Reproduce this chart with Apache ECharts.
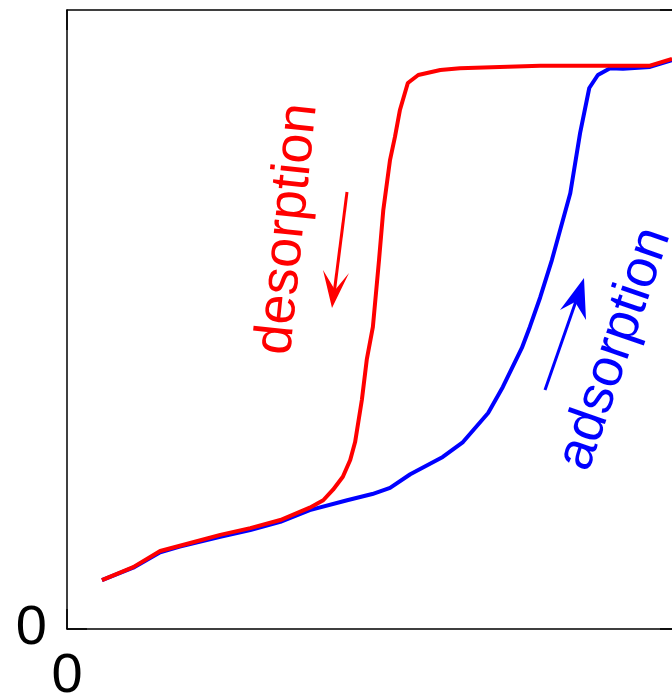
<!DOCTYPE html>
<html>
<head>
<meta charset="utf-8">
<script src="https://cdn.jsdelivr.net/npm/echarts@6/dist/echarts.min.js"></script>
<style>html,body{margin:0;padding:0;background:#fff}#c{width:672px;height:699px}</style>
</head>
<body>
<div id="c"></div>
<script>
// Relative pressure (x) and adsorbed amount (y, arbitrary units)
var adsX = [0.057,0.108,0.152,0.184,0.250,0.299,0.348,0.396,0.457,0.498,0.527,0.560,0.613,0.646,0.687,0.711,0.742,0.755,0.772,0.791,0.821,0.837,0.852,0.866,0.886,0.907,0.951,0.987];
var adsY = [7.9,9.9,12.4,13.3,14.9,16.0,17.3,19.2,20.8,21.8,22.8,25.0,27.8,30.2,34.9,39.1,45.4,48.8,53.6,59.6,70.4,80.1,87.4,89.5,90.6,90.5,90.8,91.9];
var desX = [0.057,0.108,0.152,0.201,0.250,0.299,0.348,0.396,0.418,0.434,0.450,0.462,0.470,0.481,0.489,0.499,0.509,0.516,0.527,0.535,0.543,0.556,0.573,0.609,0.641,0.706,0.772,0.870,0.951,0.987];
var desY = [7.9,10.0,12.6,13.9,15.2,16.3,17.6,19.6,20.8,22.5,24.6,27.3,30.2,37.0,43.5,48.8,59.6,67.7,75.8,79.5,83.8,88.2,89.5,90.3,90.6,90.8,91.0,91.0,91.0,92.1];
var xTicks = ['0'];
var yTicks = ['0'];

function pairs(xs, ys){ return xs.map(function(x,i){ return [x, ys[i]]; }); }

var FONT = "'Liberation Sans', Arial, sans-serif";
var chart = echarts.init(document.getElementById('c'), null, {renderer:'canvas'});
function axisLine(){ return {show:true, onZero:false, lineStyle:{color:'#000', width:1.5}}; }
function tick(){ return {show:true, inside:true, length:20, lineStyle:{color:'#000', width:1.5}}; }
chart.setOption({
  animation:false,
  backgroundColor:'#fff',
  grid:{left:67, top:10, right:-8, bottom:70, containLabel:false, outerBoundsMode:'none'},
  xAxis:[
    {type:'value', min:0, max:1, interval:1, position:'bottom', axisLine:axisLine(), axisTick:tick(), splitLine:{show:false},
     axisLabel:{show:true, margin:20, fontSize:56, lineHeight:56, fontFamily:FONT, color:'#000', showMaxLabel:false,
       formatter:function(v){ return v===0 ? xTicks[0] : ''; }}},
    {type:'value', min:0, max:1, interval:1, position:'top', axisLine:axisLine(), axisTick:tick(), splitLine:{show:false}, axisLabel:{show:false}}
  ],
  yAxis:[
    {type:'value', min:0, max:100, interval:100, position:'left', axisLine:axisLine(), axisTick:tick(), splitLine:{show:false},
     axisLabel:{show:true, margin:20, fontSize:56, lineHeight:56, fontFamily:FONT, color:'#000', showMaxLabel:false,
       formatter:function(v){ return v===0 ? yTicks[0] : ''; }}},
    {type:'value', min:0, max:100, interval:100, position:'right', axisLine:axisLine(), axisTick:tick(), splitLine:{show:false}, axisLabel:{show:false}}
  ],
  series:[
    {name:'adsorption', type:'line', data:pairs(adsX, adsY), showSymbol:false, symbol:'none', smooth:false,
     lineStyle:{color:'#0000ff', width:4}, z:2},
    {name:'desorption', type:'line', data:pairs(desX, desY), showSymbol:false, symbol:'none', smooth:false,
     lineStyle:{color:'#ff0000', width:4}, z:3}
  ],
  graphic:[
    {type:'text', x:288, y:229, rotation:84*Math.PI/180, z:10,
     style:{text:'desorption', font:"54px 'Liberation Sans', Arial, sans-serif", fill:'#ff0000', align:'center', verticalAlign:'middle', textAlign:'center', textVerticalAlign:'middle'}},
    {type:'text', x:615, y:349, rotation:71*Math.PI/180, z:10,
     style:{text:'adsorption', font:"54px 'Liberation Sans', Arial, sans-serif", fill:'#0000ff', align:'center', verticalAlign:'middle', textAlign:'center', textVerticalAlign:'middle'}},
    {type:'polyline', z:10, shape:{points:[[347,192],[334,294]]}, style:{stroke:'#ff0000', lineWidth:3, fill:null}},
    {type:'polygon', z:10, shape:{points:[[332,308],[323,270],[335,290],[349,273]]}, style:{fill:'#ff0000'}},
    {type:'polyline', z:10, shape:{points:[[545,390],[576,301]]}, style:{stroke:'#0000ff', lineWidth:3, fill:null}},
    {type:'polygon', z:10, shape:{points:[[584,278],[586,320],[575,302],[560,310]]}, style:{fill:'#0000ff'}}
  ]
});
</script>
</body>
</html>
